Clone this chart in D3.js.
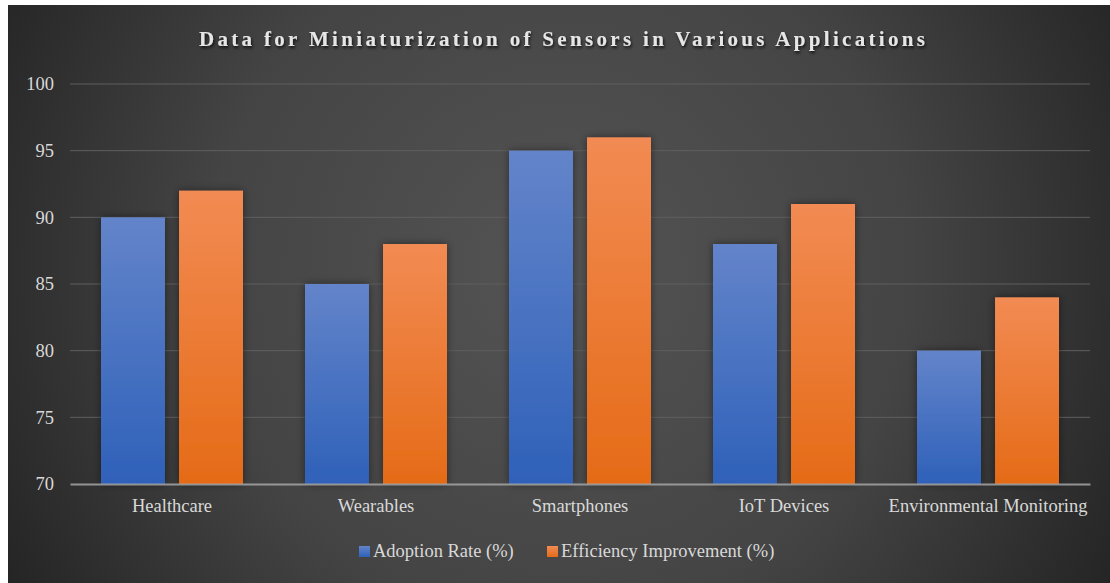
<!DOCTYPE html>
<html>
<head>
<meta charset="utf-8">
<script src="https://cdn.jsdelivr.net/npm/d3@7"></script>
<style>
html,body{margin:0;padding:0;background:#fff;}
svg{display:block;}
</style>
</head>
<body>
<svg id="chart" width="1110" height="583"></svg>
<script>
const categories = ["Healthcare", "Wearables", "Smartphones", "IoT Devices", "Environmental Monitoring"];
const seriesNames = ["Adoption Rate (%)", "Efficiency Improvement (%)"];
const adoptionRate = [90, 85, 95, 88, 80];
const efficiencyImprovement = [92, 88, 96, 91, 84];
const yTicks = [70, 75, 80, 85, 90, 95, 100];
const titleText = "Data for Miniaturization of Sensors in Various Applications";

(function () {
const seriesValues = [adoptionRate, efficiencyImprovement];
const svg = d3.select("#chart");
const defs = svg.append("defs");

const bg = defs.append("radialGradient").attr("id", "bgGrad")
  .attr("gradientUnits", "userSpaceOnUse")
  .attr("cx", 560).attr("cy", 270).attr("r", 640);
bg.append("stop").attr("offset", "0").attr("stop-color", "#545454");
bg.append("stop").attr("offset", "0.55").attr("stop-color", "#444444");
bg.append("stop").attr("offset", "1").attr("stop-color", "#242424");

const gradColors = [["#6384ca", "#2f61b9"], ["#f28b53", "#e56b17"]];
gradColors.forEach((c, i) => {
  const g = defs.append("linearGradient").attr("id", "barGrad" + i)
    .attr("x1", 0).attr("y1", 0).attr("x2", 0).attr("y2", 1);
  g.append("stop").attr("offset", "0").attr("stop-color", c[0]);
  g.append("stop").attr("offset", "1").attr("stop-color", c[1]);
});

const shadow = defs.append("filter").attr("id", "barShadow")
  .attr("x", "-30%").attr("y", "-10%").attr("width", "160%").attr("height", "120%");
shadow.append("feDropShadow").attr("dx", 0).attr("dy", 0).attr("stdDeviation", 4)
  .attr("flood-color", "#000").attr("flood-opacity", 0.45);

const titleShadow = defs.append("filter").attr("id", "titleShadow")
  .attr("x", "-5%").attr("y", "-30%").attr("width", "110%").attr("height", "160%");
titleShadow.append("feDropShadow").attr("dx", 1).attr("dy", 2).attr("stdDeviation", 1.5)
  .attr("flood-color", "#000").attr("flood-opacity", 0.8);

svg.append("rect").attr("x", 8).attr("y", 5).attr("width", 1102).attr("height", 578)
  .attr("fill", "url(#bgGrad)");

const pLeft = 70, pRight = 1090, pTop = 84, pBottom = 484;
const font = "'Liberation Serif','Times New Roman',serif";

const x0 = d3.scaleBand().domain(categories).range([pLeft, pRight]).padding(0);
const x1 = d3.scaleBand().domain(seriesNames).range([31, x0.bandwidth() - 31]).paddingInner(0.18).paddingOuter(0);
const y = d3.scaleLinear().domain([70, 100]).range([pBottom, pTop]);

svg.append("g").selectAll("line").data(yTicks.filter(t => t !== 70)).join("line")
  .attr("x1", pLeft).attr("x2", pRight)
  .attr("y1", d => y(d)).attr("y2", d => y(d))
  .attr("stroke", "#5f5f5f").attr("stroke-width", 1);

const yAxis = d3.axisLeft(y).tickValues(yTicks).tickSize(0).tickPadding(0);
const yg = svg.append("g").attr("transform", `translate(54,0)`).call(yAxis);
yg.select(".domain").remove();
yg.selectAll("text").attr("font-family", font).attr("font-size", "18.5px")
  .attr("fill", "#d9d9d9").attr("text-anchor", "end").attr("dy", "0.32em");

const groups = svg.append("g").selectAll("g").data(categories).join("g")
  .attr("transform", d => `translate(${x0(d)},0)`);
groups.selectAll("rect").data((d, ci) => seriesNames.map((s, si) => ({s, si, v: seriesValues[si][ci]})))
  .join("rect")
  .attr("x", d => x1(d.s)).attr("width", x1.bandwidth())
  .attr("y", d => y(d.v)).attr("height", d => pBottom - y(d.v))
  .attr("fill", d => `url(#barGrad${d.si})`)
  .attr("filter", "url(#barShadow)");

const xAxis = d3.axisBottom(x0).tickSize(0).tickPadding(0);
const xg = svg.append("g").attr("transform", `translate(0,${pBottom})`).call(xAxis);
xg.select(".domain").attr("stroke", "#a6a6a6").attr("stroke-width", 2).attr("stroke-opacity", 0.85);
xg.selectAll("text").attr("font-family", font).attr("font-size", "18.5px")
  .attr("fill", "#d9d9d9").attr("dy", null).attr("y", 28);

svg.append("text").attr("x", 562).attr("y", 46).attr("text-anchor", "middle")
  .attr("font-family", font).attr("font-weight", "bold").attr("font-size", "21px")
  .attr("fill", "#e6e6e6").attr("textLength", 726).attr("lengthAdjust", "spacing")
  .attr("filter", "url(#titleShadow)")
  .text(titleText);

const legendX = [359, 547];
const lg = svg.append("g");
seriesNames.forEach((s, i) => {
  lg.append("rect").attr("x", legendX[i]).attr("y", 546).attr("width", 11).attr("height", 11)
    .attr("fill", `url(#barGrad${i})`);
  lg.append("text").attr("x", legendX[i] + 14).attr("y", 557)
    .attr("font-family", font).attr("font-size", "18.5px").attr("fill", "#d9d9d9")
    .text(s);
});
})();
</script>
</body>
</html>
